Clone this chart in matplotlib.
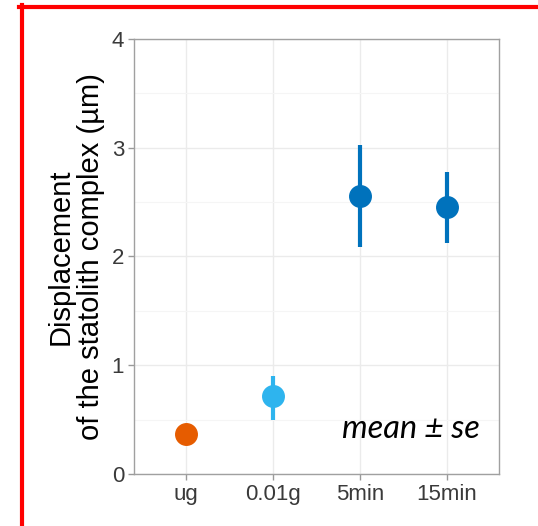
import matplotlib
matplotlib.use("Agg")
import matplotlib.pyplot as plt
from matplotlib.lines import Line2D
from matplotlib.ticker import MultipleLocator

# data
groups = ["ug", "0.01g", "5min", "15min"]
means = [0.37, 0.72, 2.56, 2.45]
lower = [0.37, 0.50, 2.09, 2.12]
upper = [0.37, 0.90, 3.02, 2.78]
colors = ["#E65C00", "#2EB4EE", "#0072BC", "#0072BC"]

plt.rcParams["font.family"] = ["Liberation Sans", "DejaVu Sans"]

fig = plt.figure(figsize=(5.38, 5.26), dpi=100)
ax = fig.add_axes([0.249, 0.099, 0.6785, 0.827])

xs = list(range(1, len(groups) + 1))
for x, m, lo, hi, c in zip(xs, means, lower, upper, colors):
    ax.plot([x, x], [lo, hi], color=c, lw=3.0, solid_capstyle="butt", zorder=3)
    ax.plot(x, m, "o", ms=15.5, color=c, mec=c, zorder=4)

ax.set_xlim(0.4, 4.6)
ax.set_ylim(0, 4)
ax.set_xticks(xs)
ax.set_xticklabels(groups)
ax.yaxis.set_major_locator(MultipleLocator(1))
ax.yaxis.set_minor_locator(MultipleLocator(0.5))
ax.grid(which="major", color="#EBEBEB", lw=1.0, zorder=0)
ax.grid(which="minor", axis="y", color="#F5F5F5", lw=0.8, zorder=0)
ax.set_axisbelow(True)
ax.tick_params(which="major", length=4, width=1, color="#999999",
               labelsize=16, labelcolor="#3A3A3A", pad=3)
ax.tick_params(which="minor", length=0)
for s in ax.spines.values():
    s.set_color("#A0A0A0")
    s.set_linewidth(1.0)

ax.set_ylabel("Displacement\nof the statolith complex (\u00b5m)", fontsize=21,
              color="black", labelpad=5, linespacing=1.1)

ax.text(4.38, 0.33, "mean \u00b1 se", fontsize=23.5, style="italic",
        family=["Lato", "Open Sans", "DejaVu Sans"], ha="right", va="baseline",
        color="black")

# red frame (top and left edges)
fig.add_artist(Line2D([19 / 538, 1.0], [1 - 7 / 526, 1 - 7 / 526],
                      transform=fig.transFigure, color="#FF0000", lw=3))
fig.add_artist(Line2D([21.5 / 538, 21.5 / 538], [0.0, 1 - 5 / 526],
                      transform=fig.transFigure, color="#FF0000", lw=3))

fig.savefig("out.png", dpi=100)
